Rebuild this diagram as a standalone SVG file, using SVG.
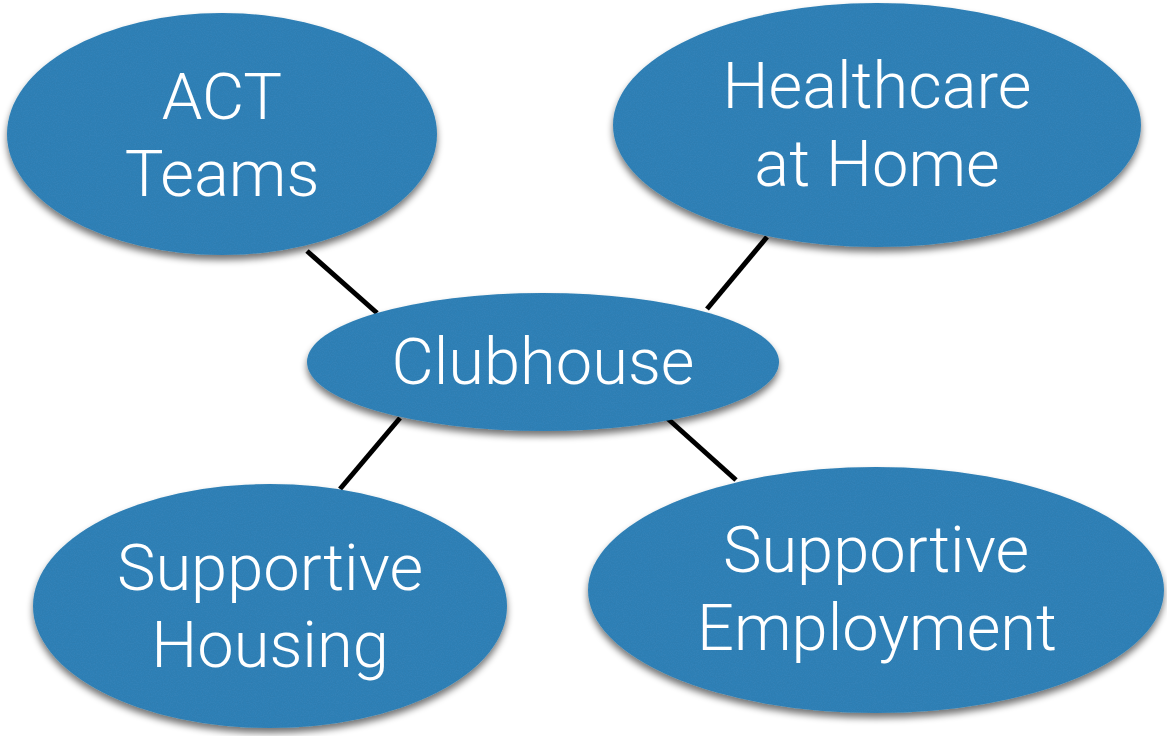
<svg xmlns="http://www.w3.org/2000/svg" width="1167" height="736" viewBox="0 0 1167 736">
  <style>
    .bubble { fill: #3281b7; filter: url(#paper); }
    .label { fill: #ffffff; font-family: Roboto, Lato, "Open Sans", "Liberation Sans", sans-serif; font-weight: 300; font-size: 65px; text-anchor: middle; }
    .link { stroke: #000000; stroke-width: 5; stroke-linecap: butt; fill: none; }
  </style>
  <defs>
    <filter id="paper" x="-5%" y="-10%" width="110%" height="130%">
      <feTurbulence type="fractalNoise" baseFrequency="0.85" numOctaves="2" seed="7" result="noise"/>
      <feColorMatrix in="noise" type="matrix" values="0 0 0 0 0  0 0 0 0 0  0 0 0 0 0  0.2 0 0 0 -0.08" result="dark"/>
      <feComposite in="dark" in2="SourceAlpha" operator="in" result="tex"/>
      <feGaussianBlur in="SourceAlpha" stdDeviation="3.5" result="blur"/>
      <feOffset in="blur" dx="0" dy="5" result="off"/>
      <feComponentTransfer in="off" result="shadow">
        <feFuncA type="linear" slope="0.55"/>
      </feComponentTransfer>
      <feMerge>
        <feMergeNode in="shadow"/>
        <feMergeNode in="SourceGraphic"/>
        <feMergeNode in="tex"/>
      </feMerge>
    </filter>
  </defs>
  <rect width="1167" height="736" fill="#ffffff"/>
  <g id="connectors">
    <line class="link" x1="307" y1="251" x2="377" y2="313"/>
    <line class="link" x1="767" y1="237" x2="707" y2="309"/>
    <line class="link" x1="400" y1="418" x2="340" y2="489"/>
    <line class="link" x1="667" y1="418" x2="736" y2="480"/>
  </g>
  <g id="act-teams">
    <ellipse class="bubble" cx="222" cy="134" rx="215" ry="121"/>
    <text class="label" x="222" y="119">ACT</text>
    <text class="label" x="222" y="196">Teams</text>
  </g>
  <g id="healthcare-at-home">
    <ellipse class="bubble" cx="877" cy="125" rx="264" ry="122"/>
    <text class="label" x="877" y="108">Healthcare</text>
    <text class="label" x="877" y="186">at Home</text>
  </g>
  <g id="clubhouse">
    <ellipse class="bubble" cx="543" cy="362" rx="236" ry="69"/>
    <text class="label" x="543" y="384">Clubhouse</text>
  </g>
  <g id="supportive-housing">
    <ellipse class="bubble" cx="270" cy="606" rx="237" ry="122"/>
    <text class="label" x="270" y="590">Supportive</text>
    <text class="label" x="270" y="667">Housing</text>
  </g>
  <g id="supportive-employment">
    <ellipse class="bubble" cx="876" cy="590" rx="288" ry="123"/>
    <text class="label" x="876" y="572">Supportive</text>
    <text class="label" x="877" y="650">Employment</text>
  </g>
</svg>
